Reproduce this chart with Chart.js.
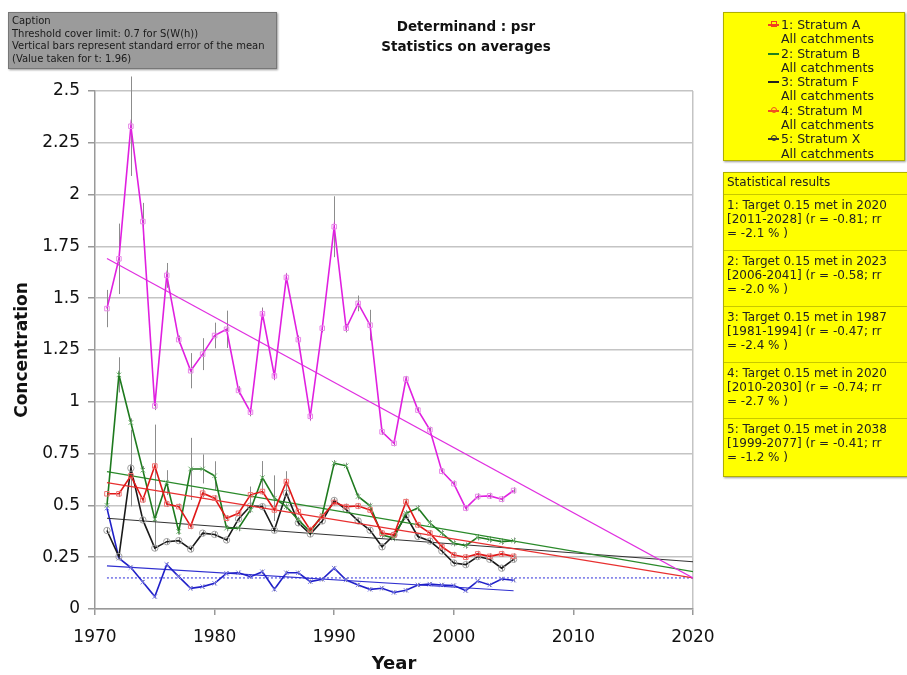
<!DOCTYPE html>
<html><head><meta charset="utf-8">
<script src="https://cdn.jsdelivr.net/npm/chart.js@4.4.1/dist/chart.umd.min.js"></script>
<style>
html,body{margin:0;padding:0;background:#fff;width:907px;height:675px;overflow:hidden;font-family:"DejaVu Sans",sans-serif;}
#c{position:absolute;left:0;top:0;}
#caption{position:absolute;left:8px;top:12px;width:269px;height:57px;background:#9b9b9b;border:1px solid #777;box-sizing:border-box;font-size:10px;line-height:12.5px;color:#1a1a1a;padding:2px 3px;box-shadow:1px 1px 2px #999;white-space:nowrap;}
#title{position:absolute;left:331px;width:270px;top:16px;text-align:center;font-weight:bold;font-size:13.5px;line-height:20px;color:#111;}
#legend{position:absolute;left:723px;top:12px;width:182px;height:149px;background:#ffff00;border:1px solid #b0b000;box-sizing:border-box;font-size:12.5px;line-height:14.3px;color:#222;padding-top:5px;box-shadow:1px 1px 2px #999;}
.lr{position:relative;padding-left:57px;height:28.6px;}
.ic{position:absolute;left:44px;top:6px;width:11px;height:2px;}
.ic i{position:absolute;left:3px;top:-3px;width:4px;height:4px;border:1px solid;background:transparent;}
#stats{position:absolute;left:723px;top:172px;width:200px;height:305px;background:#ffff00;border:1px solid #b0b000;box-sizing:border-box;font-size:12px;line-height:14px;color:#222;box-shadow:1px 1px 2px #999;}
#stats .hd{height:22px;box-sizing:border-box;padding:2px 0 0 3px;border-bottom:1px solid #c8c800;}
#stats .sec{height:56px;box-sizing:border-box;padding:3px 0 0 3px;border-bottom:1px solid #c8c800;}
</style></head><body>
<canvas id="c" width="907" height="675"></canvas>
<div id="caption">Caption<br>Threshold cover limit: 0.7 for S(W(h))<br>Vertical bars represent standard error of the mean<br>(Value taken for t: 1.96)</div>
<div id="title">Determinand : psr<br>Statistics on averages</div>
<div id="legend">
 <div class="lr"><span class="ic" style="background:#f04020"><i style="border-color:#f04020"></i></span>1: Stratum A<br>All catchments</div>
 <div class="lr"><span class="ic" style="background:#208020"></span>2: Stratum B<br>All catchments</div>
 <div class="lr"><span class="ic" style="background:#222"></span>3: Stratum F<br>All catchments</div>
 <div class="lr"><span class="ic" style="background:#f05020"><i style="border-color:#f05020;border-radius:3px"></i></span>4: Stratum M<br>All catchments</div>
 <div class="lr"><span class="ic" style="background:#333"><i style="border-color:#333;border-radius:3px"></i></span>5: Stratum X<br>All catchments</div>
</div>
<div id="stats">
 <div class="hd">Statistical results</div>
 <div class="sec">1: Target 0.15 met in 2020<br>[2011-2028] (r = -0.81; rr<br>= -2.1 % )</div>
 <div class="sec">2: Target 0.15 met in 2023<br>[2006-2041] (r = -0.58; rr<br>= -2.0 % )</div>
 <div class="sec">3: Target 0.15 met in 1987<br>[1981-1994] (r = -0.47; rr<br>= -2.4 % )</div>
 <div class="sec">4: Target 0.15 met in 2020<br>[2010-2030] (r = -0.74; rr<br>= -2.7 % )</div>
 <div class="sec" style="border-bottom:none">5: Target 0.15 met in 2038<br>[1999-2077] (r = -0.41; rr<br>= -1.2 % )</div>
</div>
<script>
const years = [1971,1972,1973,1974,1975,1976,1977,1978,1979,1980,1981,1982,1983,1984,1985,1986,1987,1988,1989,1990,1991,1992,1993,1994,1995,1996,1997,1998,1999,2000,2001,2002,2003,2004,2005];
// 4: Stratum M (magenta)
const stratumM = [1.45,1.69,2.33,1.87,0.98,1.61,1.30,1.15,1.23,1.32,1.35,1.055,0.95,1.425,1.125,1.60,1.30,0.93,1.355,1.845,1.355,1.475,1.37,0.855,0.80,1.11,0.96,0.865,0.665,0.605,0.487,0.543,0.546,0.53,0.572];
const errM = [0.09,0.17,0.24,0.09,0.02,0.06,0.02,0.085,0.077,0.062,0.09,0.02,0.02,0.03,0.02,0.02,0.02,0.02,0.02,0.147,0.02,0.038,0.074,0.015,0.015,0.015,0.015,0.015,0.015,0.015,0.015,0.015,0.015,0.015,0.015];
// 1: Stratum A (red)
const stratumA = [0.556,0.556,0.643,0.527,0.69,0.507,0.494,0.40,0.559,0.535,0.438,0.462,0.551,0.567,0.478,0.615,0.47,0.382,0.446,0.514,0.494,0.497,0.478,0.366,0.358,0.518,0.406,0.366,0.301,0.261,0.25,0.266,0.254,0.266,0.254];
const errA = [0.015,0.015,0.02,0.015,0.2,0.015,0.015,0.015,0.02,0.015,0.015,0.015,0.04,0.015,0.015,0.05,0.015,0.015,0.015,0.015,0.015,0.015,0.015,0.015,0.015,0.015,0.015,0.015,0.015,0.015,0.015,0.015,0.015,0.015,0.015];
// 2: Stratum B (green)
const stratumB = [0.50,1.13,0.90,0.67,0.434,0.61,0.374,0.676,0.676,0.643,0.39,0.39,0.478,0.634,0.535,0.494,0.43,0.373,0.454,0.704,0.691,0.543,0.498,0.357,0.342,0.462,0.487,0.415,0.366,0.317,0.306,0.346,0.335,0.325,0.33];
const errB = [0.015,0.085,0.02,0.02,0.15,0.06,0.015,0.15,0.07,0.07,0.015,0.015,0.015,0.08,0.11,0.015,0.015,0.015,0.015,0.015,0.015,0.015,0.015,0.015,0.015,0.015,0.015,0.015,0.015,0.015,0.015,0.015,0.015,0.015,0.015];
// 5: Stratum X (black)
const stratumX = [0.379,0.253,0.68,0.43,0.294,0.325,0.33,0.289,0.366,0.36,0.333,0.435,0.497,0.494,0.38,0.559,0.416,0.362,0.425,0.524,0.48,0.425,0.38,0.30,0.357,0.45,0.35,0.328,0.28,0.222,0.214,0.253,0.24,0.197,0.24];
const errX = [0.015,0.015,0.185,0.015,0.015,0.015,0.015,0.015,0.015,0.015,0.015,0.015,0.015,0.015,0.015,0.015,0.015,0.015,0.015,0.015,0.015,0.015,0.015,0.015,0.015,0.015,0.015,0.015,0.015,0.015,0.015,0.015,0.015,0.015,0.015];
// 3: Stratum F (blue)
const stratumF = [0.487,0.245,0.20,0.13,0.06,0.215,0.156,0.10,0.108,0.124,0.172,0.175,0.156,0.18,0.095,0.175,0.175,0.132,0.143,0.197,0.14,0.116,0.095,0.10,0.08,0.09,0.116,0.12,0.116,0.113,0.089,0.135,0.116,0.145,0.139];
const errF = [0.01,0.01,0.01,0.01,0.01,0.01,0.01,0.01,0.01,0.01,0.01,0.01,0.01,0.01,0.01,0.01,0.01,0.01,0.01,0.01,0.01,0.01,0.01,0.01,0.01,0.01,0.01,0.01,0.01,0.01,0.01,0.01,0.01,0.01,0.01];
// trend lines
const trendYears = [1971,2020];
const trendM = [1.692,0.15];
const trendA = [0.61,0.15];
const trendB = [0.663,0.18];
const trendX = [0.438,0.228];
const trendYearsF = [1971,2005];
const trendF = [0.208,0.088];
const targetYears = [1971,2020];
const target = [0.15,0.15];
const xTicks = [1970,1980,1990,2000,2010,2020];
const yTicks = [0,0.25,0.5,0.75,1,1.25,1.5,1.75,2,2.25,2.5];

const pts = (xs, ys) => xs.map((x,i)=>({x:x,y:ys[i]}));

const errPlugin = {
  id:'errbars',
  beforeDatasetsDraw(chart){
    const {ctx, scales:{x,y}} = chart;
    ctx.save();
    ctx.strokeStyle = '#8c8c8c';
    ctx.lineWidth = 1;
    chart.data.datasets.forEach(ds=>{
      if(!ds.err) return;
      ds.data.forEach((p,i)=>{
        const e = ds.err[i];
        const px = Math.round(x.getPixelForValue(p.x))+0.5;
        ctx.beginPath();
        ctx.moveTo(px, y.getPixelForValue(p.y-e));
        ctx.lineTo(px, y.getPixelForValue(p.y+e));
        ctx.stroke();
      });
    });
    ctx.restore();
  }
};

function series(data, err, color, ptColor, style){
  return {data:pts(years,data), err:err, borderColor:color, borderWidth:1.6, pointStyle:style, pointRadius:3.2,
    pointBorderColor:ptColor, pointBackgroundColor:'rgba(0,0,0,0)', pointBorderWidth:1, tension:0, fill:false};
}
function trend(xs, ys, color, dash){
  return {data:pts(xs,ys), borderColor:color, borderWidth:1.2, pointRadius:0, borderDash:dash||[], fill:false, tension:0};
}
const gridGray = '#c4c4c4';
const tickFont = {family:'DejaVu Sans', size:17};
new Chart(document.getElementById('c'), {
  type:'line',
  data:{datasets:[
    series(stratumM, errM, '#e020e0', '#e888e8', 'rect'),
    trend(trendYears, trendM, '#e030e0'),
    series(stratumA, errA, '#e01818', '#f07070', 'rect'),
    trend(trendYears, trendA, '#e83030'),
    series(stratumB, errB, '#1e7a1e', '#70b070', 'crossRot'),
    trend(trendYears, trendB, '#2a8a2a'),
    series(stratumX, errX, '#1a1a1a', '#a0a0a0', 'circle'),
    trend(trendYears, trendX, '#333'),
    series(stratumF, errF, '#2020c8', '#8080e8', 'crossRot'),
    trend(trendYearsF, trendF, '#3030d0'),
    trend(targetYears, target, '#5050e0', [2,2])
  ]},
  options:{
    responsive:false, animation:false, devicePixelRatio:1,
    layout:{padding:{left:0,right:214,top:91,bottom:0}},
    plugins:{legend:{display:false}, tooltip:{enabled:false}},
    scales:{
      x:{type:'linear', min:1970, max:2020,
        afterBuildTicks:s=>{s.ticks = xTicks.map(v=>({value:v}));},
        ticks:{callback:v=>String(v), font:tickFont, color:'#111', padding:12, maxRotation:0, autoSkip:false},
        grid:{drawOnChartArea:true, color:c=>(c.tick && c.tick.value===2020)?gridGray:'rgba(0,0,0,0)', tickColor:'#999', tickLength:6, lineWidth:1.5},
        border:{color:'#999', width:1.5},
        title:{display:true, text:'Year', font:{family:'DejaVu Sans', size:18, weight:'bold'}, color:'#111', padding:{top:0,bottom:0}},
        afterFit:s=>{s.height=66;}
      },
      y:{min:0, max:2.5,
        afterBuildTicks:s=>{s.ticks = yTicks.map(v=>({value:v}));},
        ticks:{callback:v=>String(Math.round(v*100)/100), font:tickFont, color:'#111', padding:8, autoSkip:false},
        grid:{color:gridGray, lineWidth:1.5, tickColor:'#999', tickLength:7},
        border:{color:'#999', width:1.5},
        title:{display:true, text:'Concentration', font:{family:'DejaVu Sans', size:17, weight:'bold'}, color:'#111', padding:{top:12,bottom:0}},
        afterFit:s=>{s.width=95;}
      }
    }
  },
  plugins:[errPlugin]
});
</script>
</body></html>
